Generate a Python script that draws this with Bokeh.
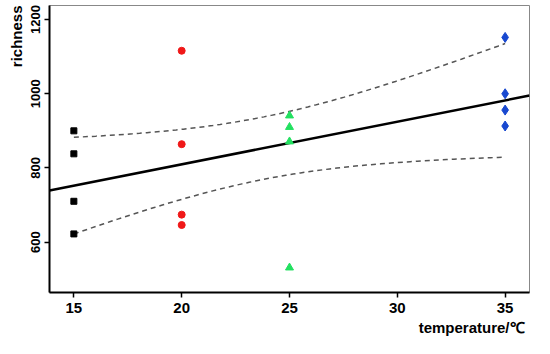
import numpy as np
from bokeh.plotting import figure
from bokeh.models import Range1d, FixedTicker, Title
from bokeh.embed import file_html
from bokeh.resources import INLINE

# data
temp_15 = [15, 15, 15, 15]
rich_15 = [900, 838, 710, 622]
temp_20 = [20, 20, 20, 20]
rich_20 = [1116, 864, 674, 646]
temp_25 = [25, 25, 25, 25]
rich_25 = [941, 910, 871, 531]
temp_35 = [35, 35, 35, 35]
rich_35 = [1152, 1000, 956, 913]

x_ticks = [15, 20, 25, 30, 35]
y_ticks = [600, 800, 1000, 1200]

# linear fit with 95% confidence band of the mean
xs = np.array(temp_15 + temp_20 + temp_25 + temp_35, dtype=float)
ys = np.array(rich_15 + rich_20 + rich_25 + rich_35, dtype=float)
slope, intercept = np.polyfit(xs, ys, 1)
n = len(xs)
resid = ys - (slope * xs + intercept)
s = np.sqrt(np.sum(resid ** 2) / (n - 2))
sxx = np.sum((xs - xs.mean()) ** 2)
t_crit = 2.145  # t(0.975, 14)
band_x = np.linspace(15, 35, 60)
band_fit = slope * band_x + intercept
half = t_crit * s * np.sqrt(1.0 / n + (band_x - xs.mean()) ** 2 / sxx)

x0, x1 = 13.87, 36.13
y0, y1 = 464, 1238
p = figure(width=534, height=338, output_backend="svg", toolbar_location=None,
           x_range=Range1d(x0, x1), y_range=Range1d(y0, y1),
           min_border_left=49, min_border_right=5, min_border_top=5, min_border_bottom=46)
p.grid.visible = False
p.outline_line_color = "#888888"
p.outline_line_width = 1

fx = np.array([x0, x1])
p.line(fx, slope * fx + intercept, line_color="black", line_width=2.5)
p.line(band_x, band_fit + half, line_color="#555555", line_width=1.5, line_dash="5 4")
p.line(band_x, band_fit - half, line_color="#555555", line_width=1.5, line_dash="5 4")

p.scatter(temp_15, rich_15, marker="square", size=6, fill_color="black", line_color="black")
p.scatter(temp_20, rich_20, marker="circle", size=7, fill_color="#f01818", line_color="#f01818")
p.scatter(temp_25, rich_25, marker="triangle", size=8, fill_color="#22e060", line_color="#22e060")
p.scatter(temp_35, rich_35, marker="diamond", size=10, fill_color="#1848d0", line_color="#1848d0")

for ax in (p.xaxis[0], p.yaxis[0]):
    ax.axis_line_width = 2
    ax.axis_line_color = "black"
    ax.major_tick_in = 0
    ax.major_tick_out = 5
    ax.major_tick_line_width = 1.5
    ax.minor_tick_line_color = None
    ax.major_label_text_font = "Liberation Sans"
    ax.major_label_text_font_style = "bold"
    ax.major_label_text_color = "black"

p.xaxis.ticker = FixedTicker(ticks=x_ticks)
p.yaxis.ticker = FixedTicker(ticks=y_ticks)
p.xaxis.major_label_text_font_size = "15px"
p.yaxis.major_label_text_font_size = "13px"
p.yaxis.major_label_orientation = "vertical"
p.yaxis.major_label_standoff = 4

p.add_layout(Title(text="temperature/℃", align="right", text_font="Liberation Sans",
                   text_font_style="bold", text_font_size="15px", text_color="black",
                   standoff=2, offset=5), "below")
p.add_layout(Title(text="richness", align="right", text_font="Liberation Sans",
                   text_font_style="bold", text_font_size="15px", text_color="black",
                   standoff=8), "left")

open("out.html", "w").write(file_html(p, INLINE))
